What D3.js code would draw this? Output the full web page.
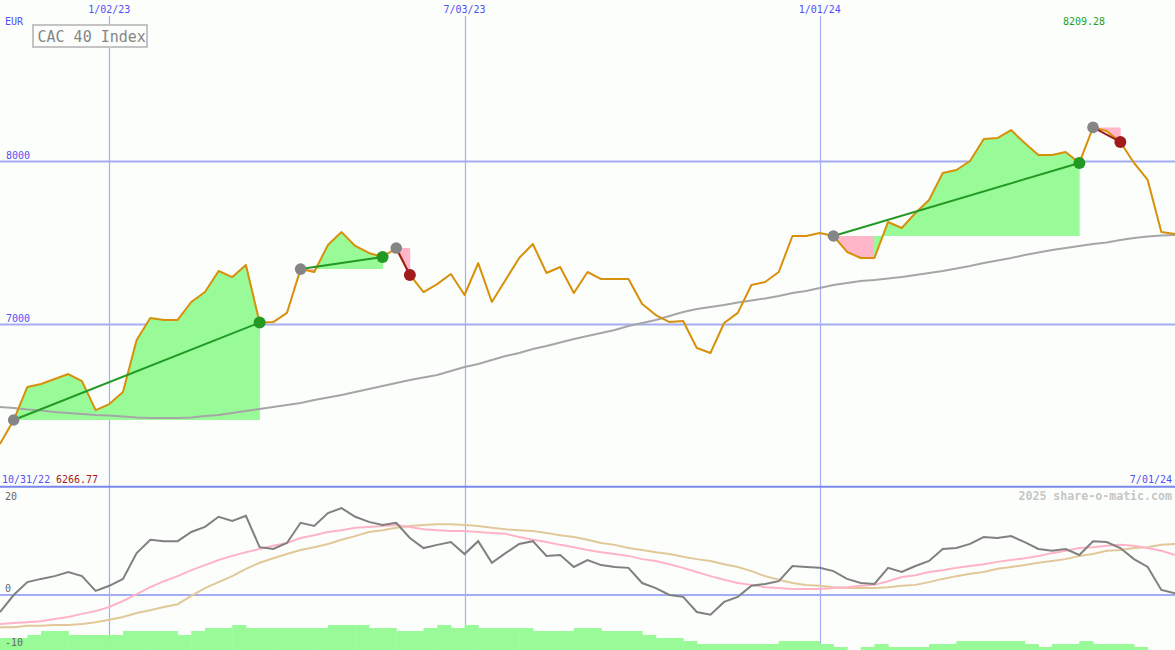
<!DOCTYPE html>
<html>
<head>
<meta charset="utf-8">
<script src="https://cdn.jsdelivr.net/npm/d3@7"></script>
<style>
  html, body { margin: 0; padding: 0; background: #fcfefc; }
  svg { display: block; }
  text { font-family: "DejaVu Sans Mono", monospace; }
</style>
</head>
<body>
<svg id="chart" width="1175" height="650"></svg>
<script>
// ---------- DATA ----------
const startWeek = "2022-11-07";           // first weekly point
const endWeek = "2024-07-01";             // last weekly point
const startLabel = "10/31/22";
const endLabel = "7/01/24";
const minLabel = "6266.77";
const maxLabel = "8209.28";
const title = "CAC 40 Index";
const currency = "EUR";
const gridDates = ["2023-01-02", "2023-07-03", "2024-01-01"];
const gridLabels = ["1/02/23", "7/03/23", "1/01/24"];
const priceTicks = [7000, 8000];
const subTicks = [20, 0, -10];

const price = [
  6266.77, 6414, 6617, 6635, 6666, 6696, 6653, 6475, 6512, 6586,
  6905, 7040, 7028, 7028, 7138, 7199, 7328, 7291, 7365, 7012,
  7015, 7071, 7340, 7322, 7488, 7567, 7482, 7439, 7414, 7469,
  7304, 7199, 7248, 7310, 7181, 7377, 7138, 7273, 7408, 7494,
  7316, 7353, 7193, 7322, 7279, 7279, 7279, 7126, 7058, 7015,
  7021, 6856, 6825, 7009, 7071, 7242, 7261, 7322, 7543, 7543,
  7561, 7543, 7445, 7408, 7408, 7629, 7592, 7684, 7764, 7929,
  7948, 8003, 8138, 8144, 8193, 8113, 8040, 8040, 8058, 7991,
  8209.28, 8187, 8120, 7991, 7887, 7567, 7555
];
const movingAvg = [
  6494, 6488, 6478, 6472, 6463, 6457, 6451, 6445, 6442, 6436,
  6429, 6426, 6426, 6426, 6429, 6439, 6445, 6457, 6469, 6482,
  6494, 6506, 6518, 6537, 6552, 6567, 6586, 6604, 6623, 6641,
  6660, 6675, 6690, 6715, 6739, 6758, 6782, 6807, 6825, 6850,
  6868, 6890, 6911, 6929, 6948, 6966, 6991, 7009, 7028, 7052,
  7077, 7095, 7107, 7120, 7135, 7147, 7160, 7175, 7193, 7206,
  7224, 7242, 7255, 7267, 7273, 7282, 7291, 7304, 7316, 7328,
  7344, 7359, 7377, 7393, 7408, 7426, 7442, 7457, 7469, 7482,
  7494, 7503, 7518, 7531, 7540, 7546, 7549
];
const momentum = [
  -3.7, 0, 2.8, 3.5, 4.1, 5.0, 4.1, 0.9, 2.0, 3.5,
  9.1, 12.0, 11.7, 11.7, 13.7, 14.8, 17.0, 16.1, 17.2, 10.4,
  10.0, 11.3, 15.7, 15.0, 17.8, 18.9, 17.0, 15.9, 15.2, 15.7,
  12.4, 10.2, 10.9, 11.5, 8.9, 11.7, 7.0, 9.1, 11.1, 11.7,
  8.5, 8.7, 6.1, 7.6, 6.5, 6.1, 5.9, 2.6, 1.5, 0,
  -0.4, -3.7, -4.3, -1.5, -0.4, 2.0, 2.4, 3.0, 6.3, 6.1,
  5.9, 5.2, 3.5, 2.6, 2.4, 5.9, 5.0, 6.3, 7.4, 10.0,
  10.2, 11.1, 12.6, 12.4, 12.8, 11.5, 10.0, 9.6, 10.0, 8.7,
  11.7, 11.5, 10.2, 7.8, 6.1, 1.1, 0.4
];
const signalFast = [
  -6.3, -6.1, -5.9, -5.7, -5.2, -4.8, -4.1, -3.5, -2.6, -1.3,
  0.2, 1.7, 3.0, 4.1, 5.4, 6.5, 7.6, 8.5, 9.3, 10.0,
  10.7, 11.3, 12.4, 13.0, 13.7, 14.1, 14.6, 14.8, 15.0, 15.2,
  14.8, 14.3, 14.1, 13.9, 13.9, 13.7, 13.5, 13.3, 12.6, 12.0,
  11.5, 10.9, 10.4, 9.8, 9.3, 8.9, 8.5, 7.8, 7.4, 6.7,
  5.9, 5.0, 4.1, 3.3, 2.6, 2.2, 1.7, 1.5, 1.3, 1.3,
  1.3, 1.5, 1.7, 2.0, 2.2, 3.0, 3.9, 4.3, 5.0, 5.4,
  5.9, 6.3, 6.7, 7.2, 7.6, 8.0, 8.5, 9.1, 9.6, 10.2,
  10.4, 10.7, 10.9, 10.7, 10.2, 9.6, 8.7
];
const signalSlow = [
  -7.0, -7.0, -6.7, -6.7, -6.5, -6.5, -6.3, -5.9, -5.4, -4.8,
  -3.9, -3.3, -2.6, -2.0, -0.2, 1.5, 2.8, 4.1, 5.7, 7.0,
  8.0, 8.9, 9.8, 10.4, 11.1, 12.0, 12.8, 13.7, 14.1, 14.6,
  15.0, 15.2, 15.4, 15.4, 15.2, 15.0, 14.6, 14.3, 14.1, 13.9,
  13.5, 13.0, 12.6, 12.0, 11.3, 10.9, 10.2, 9.8, 9.3, 8.9,
  8.3, 7.8, 7.4, 6.7, 6.1, 5.2, 4.1, 3.3, 2.6, 2.2,
  2.0, 1.7, 1.5, 1.5, 1.5, 1.7, 2.0, 2.2, 2.8, 3.5,
  4.1, 4.6, 5.0, 5.7, 6.1, 6.5, 7.0, 7.4, 7.8, 8.5,
  8.9, 9.6, 9.8, 10.2, 10.4, 10.9, 11.1
];
const volumeBars = [
  12, 12, 15, 19, 19, 15, 15, 15, 15, 19,
  19, 19, 19, 15, 19, 22, 22, 25, 22, 22,
  22, 22, 22, 22, 25, 25, 25, 22, 22, 19,
  19, 22, 25, 22, 25, 22, 22, 22, 22, 19,
  19, 19, 22, 22, 19, 19, 19, 15, 12, 12,
  9, 6, 6, 6, 6, 6, 6, 9, 9, 9,
  6, 3, 0, 3, 6, 3, 3, 3, 6, 6,
  9, 9, 9, 9, 9, 6, 3, 6, 6, 9,
  6, 6, 6, 3, 0, 0
];
const trendStart = [1, 22, 29, 61, 80];
const trendEnd = [19, 28, 30, 79, 82];
const trendDir = ["up", "up", "down", "up", "down"];

// ---------- SCALES ----------
const W = 1175, H = 650;
const parse = d3.timeParse("%Y-%m-%d");
const weeks = price.map((_, i) => d3.timeDay.offset(parse(startWeek), 7 * i));
const x = d3.scaleTime().domain([parse(startWeek), parse(endWeek)]).range([0, W]);
const y = d3.scaleLinear().domain([7000, 8000]).range([324.5, 161.5]);
const ySub = d3.scaleLinear().domain([0, 20]).range([595, 503]);
const yVol = d3.scaleLinear().domain([0, 25]).range([650, 625]);

const C = {
  bg: "#fcfefc", grid: "#a4acf2", sep: "#7a88ee", label: "#5050f6",
  price: "#d8900a", ma: "#a6a6a6", upFill: "#98fb98", downFill: "#ffb6c8",
  upLine: "#229922", downLine: "#a01c1c", dotGray: "#858585",
  mom: "#808080", fast: "#ffb4c6", slow: "#e2c898", textGray: "#666"
};

const svg = d3.select("#chart");
svg.append("rect").attr("width", W).attr("height", H).attr("fill", C.bg);

// ---------- GRID ----------
svg.selectAll("line.vgrid").data(gridDates).join("line")
  .attr("class", "vgrid")
  .attr("x1", d => Math.round(x(parse(d))) + 0.5).attr("x2", d => Math.round(x(parse(d))) + 0.5)
  .attr("y1", 16).attr("y2", H)
  .attr("stroke", C.grid).attr("stroke-width", 1.2);

svg.selectAll("text.vlab").data(gridLabels).join("text")
  .attr("class", "vlab")
  .attr("x", (d, i) => x(parse(gridDates[i])))
  .attr("y", 13).attr("text-anchor", "middle")
  .attr("font-size", 10).attr("fill", C.label).text(d => d);

svg.selectAll("line.hgrid").data(priceTicks).join("line")
  .attr("class", "hgrid")
  .attr("x1", 0).attr("x2", W).attr("y1", d => y(d)).attr("y2", d => y(d))
  .attr("stroke", C.grid).attr("stroke-width", 2);
svg.selectAll("text.hlab").data(priceTicks).join("text")
  .attr("class", "hlab")
  .attr("x", 6).attr("y", d => y(d) - 2.5)
  .attr("font-size", 10).attr("fill", C.label).text(d => d);

svg.append("text").attr("x", 5).attr("y", 24.5).attr("font-size", 10)
  .attr("fill", C.label).text(currency);

// sub-panel separator and zero line
svg.append("line").attr("x1", 0).attr("x2", W).attr("y1", 486.7).attr("y2", 486.7)
  .attr("stroke", C.sep).attr("stroke-width", 2);
svg.append("line").attr("x1", 0).attr("x2", W).attr("y1", ySub(0)).attr("y2", ySub(0))
  .attr("stroke", C.grid).attr("stroke-width", 2);

// ---------- TREND FILLS (one path per colour per trend, no seams) ----------
const fills = svg.append("g");
trendStart.forEach((s, k) => {
  const e = trendEnd[k];
  const base = price[s];
  let upD = "", downD = "";
  for (let i = s; i < e; i++) {
    const pts = [
      [x(weeks[i]) - 0.3, y(base)], [x(weeks[i]) - 0.3, y(price[i])],
      [x(weeks[i + 1]) + 0.3, y(price[i + 1])], [x(weeks[i + 1]) + 0.3, y(base)]
    ];
    const d = d3.line()(pts) + "Z";
    if (price[i + 1] >= base) upD += d; else downD += d;
  }
  if (downD) fills.append("path").attr("d", downD).attr("fill", C.downFill);
  if (upD) fills.append("path").attr("d", upD).attr("fill", C.upFill);
});

// ---------- MAIN LINES ----------
const lineMain = d3.line().x((d, i) => x(weeks[i])).y(d => y(d));
svg.append("path").datum(movingAvg).attr("d", lineMain)
  .attr("fill", "none").attr("stroke", C.ma).attr("stroke-width", 2);
svg.append("path").datum(price).attr("d", lineMain)
  .attr("fill", "none").attr("stroke", C.price).attr("stroke-width", 2)
  .attr("stroke-linejoin", "round");

// trend lines and dots
trendStart.forEach((s, k) => {
  const e = trendEnd[k];
  const up = trendDir[k] === "up";
  svg.append("line")
    .attr("x1", x(weeks[s])).attr("y1", y(price[s]))
    .attr("x2", x(weeks[e])).attr("y2", y(price[e]))
    .attr("stroke", up ? C.upLine : C.downLine).attr("stroke-width", 2);
});
trendStart.forEach((s, k) => {
  const e = trendEnd[k];
  const up = trendDir[k] === "up";
  svg.append("circle").attr("cx", x(weeks[s])).attr("cy", y(price[s])).attr("r", 5.8)
    .attr("fill", C.dotGray);
  svg.append("circle").attr("cx", x(weeks[e])).attr("cy", y(price[e])).attr("r", 6)
    .attr("fill", up ? C.upLine : C.downLine);
});

// ---------- SUB PANEL ----------
const lineSub = d3.line().x((d, i) => x(weeks[i])).y(d => ySub(d));
svg.append("path").datum(signalSlow).attr("d", lineSub)
  .attr("fill", "none").attr("stroke", C.slow).attr("stroke-width", 2);
svg.append("path").datum(signalFast).attr("d", lineSub)
  .attr("fill", "none").attr("stroke", C.fast).attr("stroke-width", 2);
svg.append("path").datum(momentum).attr("d", lineSub)
  .attr("fill", "none").attr("stroke", C.mom).attr("stroke-width", 2);

svg.selectAll("rect.vol").data(volumeBars).join("rect")
  .attr("class", "vol")
  .attr("x", (d, i) => x(weeks[i]))
  .attr("width", (d, i) => x(weeks[i + 1]) - x(weeks[i]) + 0.5)
  .attr("y", d => yVol(d)).attr("height", d => yVol(0) - yVol(d))
  .attr("fill", C.upFill);

svg.selectAll("text.slab").data(subTicks).join("text")
  .attr("class", "slab")
  .attr("x", 5)
  .attr("y", (d, i) => i === subTicks.length - 1 ? 646 : ySub(d) - 3)
  .attr("font-size", 10).attr("fill", C.textGray).text(d => d);

// ---------- LABELS ----------
svg.append("text").attr("x", 2).attr("y", 483).attr("font-size", 10)
  .attr("fill", C.label).text(startLabel);
svg.append("text").attr("x", 56).attr("y", 483).attr("font-size", 10)
  .attr("fill", C.downLine).text(minLabel);
svg.append("text").attr("x", 1172).attr("y", 483).attr("font-size", 10)
  .attr("text-anchor", "end").attr("fill", C.label).text(endLabel);
svg.append("text").attr("x", 1084).attr("y", 25).attr("font-size", 10)
  .attr("text-anchor", "middle").attr("fill", "#22a022").text(maxLabel);
svg.append("text").attr("x", 1172).attr("y", 500).attr("font-size", 11.6)
  .attr("font-weight", "bold").attr("text-anchor", "end")
  .attr("fill", "#c6c6c6").text("2025 share-o-matic.com");

// title box
svg.append("rect").attr("x", 33).attr("y", 25).attr("width", 114).attr("height", 22)
  .attr("fill", C.bg).attr("stroke", "#c4c4c4").attr("stroke-width", 2);
svg.append("text").attr("x", 37.5).attr("y", 41.5).attr("font-size", 15)
  .attr("fill", "#858585").text(title);
</script>
</body>
</html>
